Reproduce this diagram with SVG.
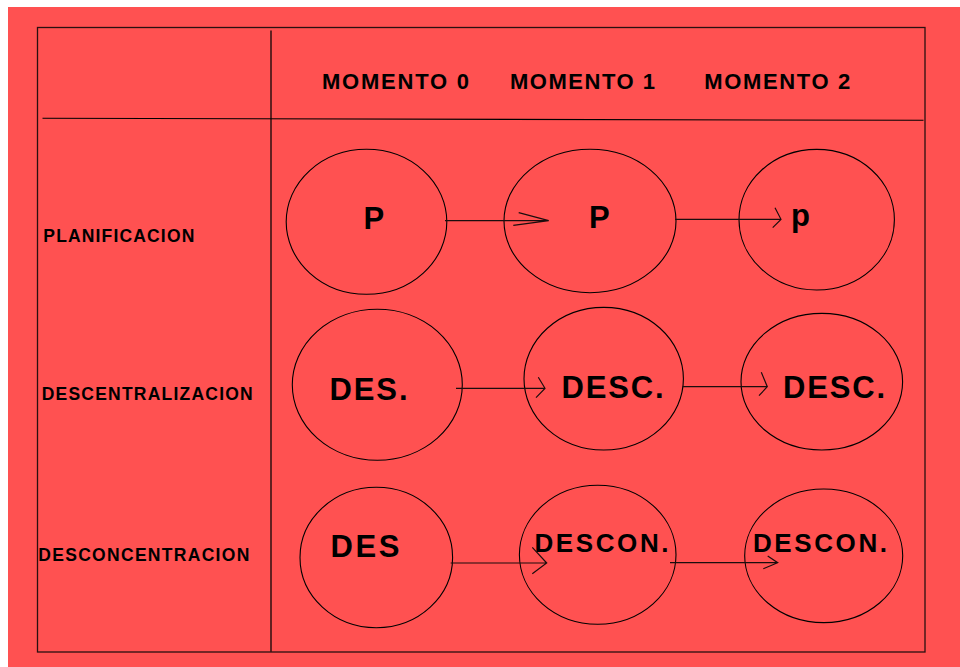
<svg xmlns="http://www.w3.org/2000/svg" width="960" height="667" viewBox="0 0 960 667">
<style>
.node ellipse{fill:none;stroke:#000;stroke-width:1.1}
.big{font-family:"Liberation Sans",Arial,sans-serif;font-weight:bold;font-size:31px;fill:#000}
.mid{font-family:"Liberation Sans",Arial,sans-serif;font-weight:bold;font-size:26px;fill:#000}
.hdr{font-family:"Liberation Sans",Arial,sans-serif;font-weight:bold;font-size:22px;fill:#000}
.lbl{font-family:"Liberation Sans",Arial,sans-serif;font-weight:bold;font-size:17.5px;fill:#000}
.conn path{fill:none;stroke:#1a0d0d;stroke-width:1.2}
</style>
<rect x="0" y="0" width="960" height="667" fill="#fff"/>
<rect x="8" y="7" width="952" height="660" fill="#FF5151"/>
<g id="grid" fill="none">
<rect x="37.5" y="27.5" width="887.5" height="624.5" stroke="#2a1010" stroke-width="1.3"/>
<line x1="271" y1="30.5" x2="271" y2="652" stroke="#3a1515" stroke-width="1.6"/>
<line x1="42.5" y1="118.3" x2="923.5" y2="120.3" stroke="#000" stroke-width="1.1"/>
</g>
<g id="headers">
<text class="hdr" x="322" y="89.3" textLength="147" lengthAdjust="spacing">MOMENTO 0</text>
<text class="hdr" x="510" y="89.3" textLength="145" lengthAdjust="spacing">MOMENTO 1</text>
<text class="hdr" x="704.3" y="89.3" textLength="146" lengthAdjust="spacing">MOMENTO 2</text>
</g>
<g id="rowlabels">
<text class="lbl" x="43.3" y="241.5" textLength="151" lengthAdjust="spacing">PLANIFICACION</text>
<text class="lbl" x="41.7" y="400" textLength="211" lengthAdjust="spacing">DESCENTRALIZACION</text>
<text class="lbl" x="38.3" y="561" textLength="211" lengthAdjust="spacing">DESCONCENTRACION</text>
</g>
<g id="n-p0" class="node"><ellipse cx="366.5" cy="221.8" rx="80.3" ry="72.5"/><text class="big" x="363.5" y="229.3">P</text></g>
<g id="n-p1" class="node"><ellipse cx="590" cy="221" rx="86" ry="71.7"/><text class="big" x="589" y="228.3">P</text></g>
<g id="n-p2" class="node"><ellipse cx="816.7" cy="219.7" rx="77.7" ry="70.3"/><text class="big" x="791" y="225.5">p</text></g>
<g id="n-d0" class="node"><ellipse cx="377.3" cy="384.8" rx="85" ry="75.5"/><text class="big" x="329.5" y="400" textLength="78" lengthAdjust="spacing">DES.</text></g>
<g id="n-d1" class="node"><ellipse cx="603.7" cy="378.7" rx="79.7" ry="71.3"/><text class="big" x="561.5" y="398.3" textLength="102" lengthAdjust="spacing">DESC.</text></g>
<g id="n-d2" class="node"><ellipse cx="821.8" cy="381.7" rx="80.8" ry="68.3"/><text class="big" x="783" y="397.7" textLength="102" lengthAdjust="spacing">DESC.</text></g>
<g id="n-c0" class="node"><ellipse cx="376.3" cy="557.5" rx="76.3" ry="70.2"/><text class="big" x="330.5" y="556.7" textLength="69" lengthAdjust="spacing">DES</text></g>
<g id="n-c1" class="node"><ellipse cx="597.7" cy="554.8" rx="78.3" ry="69.5"/><text class="mid" x="534.5" y="552" textLength="134" lengthAdjust="spacing">DESCON.</text></g>
<g id="n-c2" class="node"><ellipse cx="823.7" cy="555.8" rx="79" ry="66.8"/><text class="mid" x="753" y="552" textLength="134" lengthAdjust="spacing">DESCON.</text></g>
<g id="connectors" class="conn">
<path d="M445 220.7H548.7M518.7 212.7L548.7 220.7L513.3 225.3"/>
<path d="M675 219.3H781M775 207.7L781 219.3L772.7 227.7"/>
<path d="M456 388.3H545M538.3 377.3L545 388.3L536 397.7"/>
<path d="M682.7 386.7H767.3M761.3 372.3L767.3 386.7L759 395.7"/>
<path d="M450.7 563H546.7M532.3 547.3L546.7 563L532.3 573.7"/>
<path d="M670 562.7H777.7M767.7 556L777.7 562.7L763.3 568.7"/>
</g>
</svg>
